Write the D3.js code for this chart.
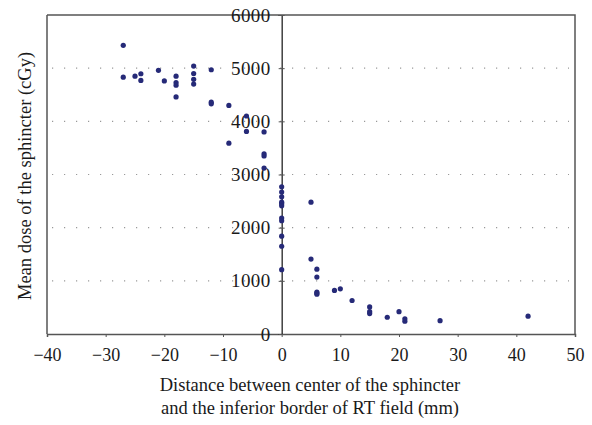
<!DOCTYPE html>
<html>
  <head>
    <style>
      body { margin: 0; background: #fff; }
      svg { display: block; font-family: "Liberation Serif", serif; }
    </style>
  </head>
  <body>
    <svg id="chart" width="592" height="425"></svg>
    <script src="https://d3js.org/d3.v7.min.js"></script>
    <script>
      // distance (mm) and mean dose (cGy)
      var distance = [
        -27, -27, -25, -24, -24, -21, -20, -18, -18, -18, -18,
        -15, -15, -15, -15, -12, -12, -12, -9, -9, -6, -6,
        -3, -3, -3, -3,
        0, 0, 0, 0, 0, 0, 0, 0, 0, 0, 0,
        5, 5, 6, 6, 6, 6, 6, 9, 10, 12, 15, 15, 15,
        18, 20, 21, 21, 27, 42
      ];
      var dose = [
        5430, 4830, 4850, 4895, 4770, 4960, 4760, 4850, 4730, 4680, 4460,
        5040, 4900, 4790, 4700, 4970, 4360, 4330, 4300, 3590, 4100, 3810,
        3800, 3390, 3350, 3120,
        2770, 2670, 2580, 2480, 2450, 2410, 2180, 2130, 1840, 1650, 1210,
        2480, 1410, 1220, 1070, 790, 770, 750, 820, 850, 630, 510, 420, 385,
        315, 420, 285, 240, 250, 335
      ];
      var xTicks = [-40, -30, -20, -10, 0, 10, 20, 30, 40, 50];
      var yTicks = [0, 1000, 2000, 3000, 4000, 5000, 6000];

      var svg = d3.select("#chart");
      var mLeft = 47, mRight = 575, mTop = 15, mBottom = 334;
      var serif = "'Liberation Serif', serif";

      var x = d3.scaleLinear().domain([-40, 50]).range([mLeft, mRight]);
      var y = d3.scaleLinear().domain([0, 6000]).range([mBottom, mTop]);

      // dotted grid lines
      svg.append("g")
        .selectAll("line")
        .data(yTicks.filter(d => d > 0 && d < 6000))
        .join("line")
        .attr("x1", mLeft + 5)
        .attr("x2", mRight - 6)
        .attr("y1", d => y(d))
        .attr("y2", d => y(d))
        .attr("stroke", "#999")
        .attr("stroke-width", 1.2)
        .attr("stroke-dasharray", "1.2,10.8");

      // frame (top and right)
      svg.append("path")
        .attr("d", "M" + mLeft + "," + mTop + "H" + mRight + "V" + mBottom)
        .attr("fill", "none")
        .attr("stroke", "#555")
        .attr("stroke-width", 1.5);

      // x axis along the bottom
      var xAxis = svg.append("g")
        .attr("transform", "translate(0," + mBottom + ")")
        .call(d3.axisBottom(x).tickValues(xTicks).tickSize(3).tickFormat(d => d < 0 ? "\u2212" + Math.abs(d) : d))
        .attr("font-family", serif)
        .attr("font-size", 18);
      xAxis.select(".domain").attr("stroke", "#555").attr("stroke-width", 1.5);
      xAxis.selectAll(".tick line").attr("stroke", "#555");
      xAxis.selectAll("text")
        .attr("fill", "#1a1a1a")
        .attr("dy", "1.15em");

      // left frame line
      svg.append("line")
        .attr("x1", mLeft).attr("x2", mLeft)
        .attr("y1", mTop).attr("y2", mBottom)
        .attr("stroke", "#555")
        .attr("stroke-width", 1.5);

      // y axis crossing at x = 0
      var yAxis = svg.append("g")
        .attr("transform", "translate(" + x(0) + ",0)")
        .call(d3.axisLeft(y).tickValues(yTicks).tickSize(3).tickPadding(8).tickFormat(d3.format("d")))
        .attr("font-family", serif)
        .attr("font-size", 19);
      yAxis.select(".domain").attr("stroke", "#111").attr("stroke-width", 1.2);
      yAxis.selectAll(".tick line").attr("stroke", "#555").attr("x2", 3).attr("x1", -3);
      yAxis.selectAll("text")
        .attr("letter-spacing", 0.4)
        .attr("fill", "#1a1a1a");

      // points
      svg.append("g")
        .selectAll("circle")
        .data(distance.map((d, i) => [d, dose[i]]))
        .join("circle")
        .attr("cx", d => x(d[0]))
        .attr("cy", d => y(d[1]))
        .attr("r", 2.6)
        .attr("fill", "#262a78");

      // axis titles
      svg.append("text")
        .attr("transform", "translate(31,176) rotate(-90)")
        .attr("text-anchor", "middle")
        .attr("font-size", 18.5)
        .attr("fill", "#1a1a1a")
        .text("Mean dose of the sphincter (cGy)");

      var xt = svg.append("text")
        .attr("text-anchor", "middle")
        .attr("font-size", 18.5)
        .attr("fill", "#1a1a1a");
      xt.append("tspan").attr("x", 310).attr("y", 391)
        .text("Distance between center of the sphincter");
      xt.append("tspan").attr("x", 310).attr("y", 414)
        .text("and the inferior border of RT field (mm)");
    </script>
  </body>
</html>
